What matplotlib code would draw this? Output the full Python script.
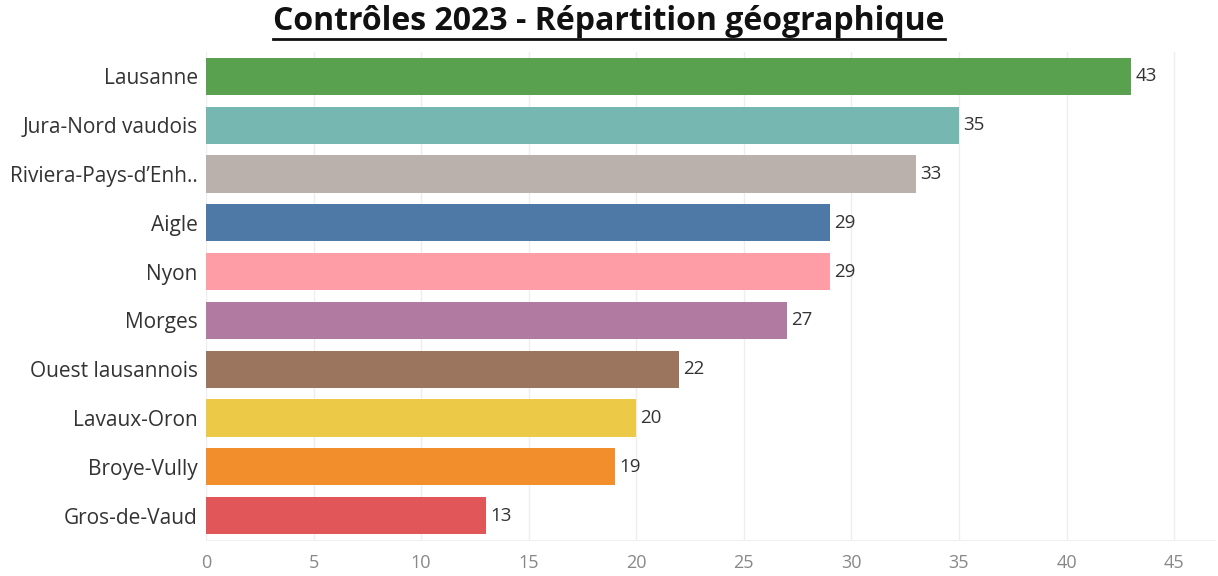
import matplotlib.pyplot as plt
from matplotlib.lines import Line2D

regions = ["Lausanne", "Jura-Nord vaudois", "Riviera-Pays-d\u2019Enh..", "Aigle", "Nyon",
           "Morges", "Ouest lausannois", "Lavaux-Oron", "Broye-Vully", "Gros-de-Vaud"]
controles = [43, 35, 33, 29, 29, 27, 22, 20, 19, 13]
couleurs = ["#59A14F", "#76B7B2", "#BAB0AC", "#4E79A7", "#FF9DA7",
            "#B07AA1", "#9C755F", "#EDC948", "#F28E2B", "#E15759"]
ticks = [0, 5, 10, 15, 20, 25, 30, 35, 40, 45]

plt.rcParams['font.family'] = ['Open Sans', 'DejaVu Sans']

fig = plt.figure(figsize=(12.18, 5.76), dpi=100)
ax = fig.add_axes([206 / 1218, 1 - 540 / 576, (1215 - 206) / 1218, (540 - 52) / 576])

y = list(range(len(regions)))
ax.barh(y, controles, height=0.76, color=couleurs, zorder=2)
for yi, v in zip(y, controles):
    ax.text(v + 0.2, yi, str(v), va='center', ha='left', fontsize=13.5, color='#333333')

ax.set_yticks(y)
ax.set_yticklabels(regions, fontsize=15, color='#333333')
ax.set_ylim(len(regions) - 0.5, -0.5)
ax.set_xlim(0, 46.9)
ax.set_xticks(ticks)
ax.set_xticklabels([str(t) for t in ticks], fontsize=13, color='#888888')
ax.tick_params(axis='y', length=0, pad=6)
ax.tick_params(axis='x', length=0, pad=10)
ax.grid(axis='x', color='#eeeeee', linewidth=1, zorder=0)
for s in ['top', 'right', 'left']:
    ax.spines[s].set_visible(False)
ax.spines['bottom'].set_color('#f0f0f0')

t = fig.text(0.5, 1 - 21 / 576, "Contrôles 2023 - Répartition géographique",
             ha='center', va='center', fontsize=23, fontweight='bold', color='#111111')
fig.canvas.draw()
bb = t.get_window_extent()
x0, x1 = bb.x0 / 1218, bb.x1 / 1218
yl = (bb.y0 - 1) / 576
fig.add_artist(Line2D([x0, x1], [yl, yl], color='#111111', linewidth=2))

fig.savefig("out.png", dpi=100)
